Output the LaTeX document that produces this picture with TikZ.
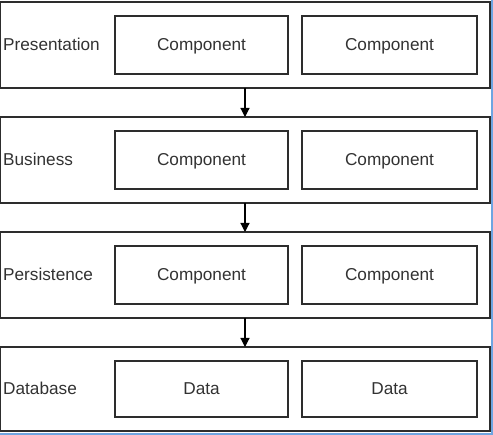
\documentclass[tikz,border=0pt]{standalone}
\usepackage{fontspec}
\setmainfont{Liberation Sans}
\usetikzlibrary{arrows.meta}
\definecolor{linec}{RGB}{45,45,45}
\definecolor{textc}{RGB}{50,50,50}
\definecolor{edgeblue}{RGB}{110,165,225}
\tikzset{
  layerbox/.style={draw=linec, line width=1.3pt, rectangle},
  compbox/.style={draw=linec, line width=1.3pt, rectangle},
  comptext/.style={anchor=base, inner sep=0pt, text=textc, font=\fontsize{17.2}{19}\selectfont},
  layerlabel/.style={anchor=base west, inner sep=0pt, font=\fontsize{17.2}{19}\selectfont, text=textc},
  flow/.style={draw=black, line width=1.2pt, -{Triangle[length=9pt,width=9pt]}}
}
\begin{document}
\begin{tikzpicture}[x=1pt,y=-1pt]
\useasboundingbox (0,0) rectangle (493,435);
% layers
\foreach \n/\t/\b/\lab/\ca/\cb in {
  1/2/88/Presentation/Component/Component,
  2/117/203/Business/Component/Component,
  3/232/318/Persistence/Component/Component,
  4/347/431/Database/Data/Data}{
  \path[layerbox] (0.7,\t) rectangle (490,\b);
  \coordinate (L\n top) at (245,\t);
  \coordinate (L\n bot) at (245,\b);
  \node[layerlabel] (lab\n) at (3,{(\t+\b)/2+5.8}) {\lab};
  \path[compbox] (115,\t+14) rectangle (288,\b-14);
  \node[comptext] (c\n a) at (201.5,{(\t+\b)/2+5.8}) {\ca};
  \path[compbox] (302,\t+14) rectangle (477,\b-14);
  \node[comptext] (c\n b) at (389.5,{(\t+\b)/2+5.8}) {\cb};
}
\draw[flow] (L1bot) -- (L2top);
\draw[flow] (L2bot) -- (L3top);
\draw[flow] (L3bot) -- (L4top);
% screenshot edge
\draw[edgeblue, line width=1.5pt] (492.2,0) -- (492.2,434.2) -- (0,434.2);
\end{tikzpicture}
\end{document}
